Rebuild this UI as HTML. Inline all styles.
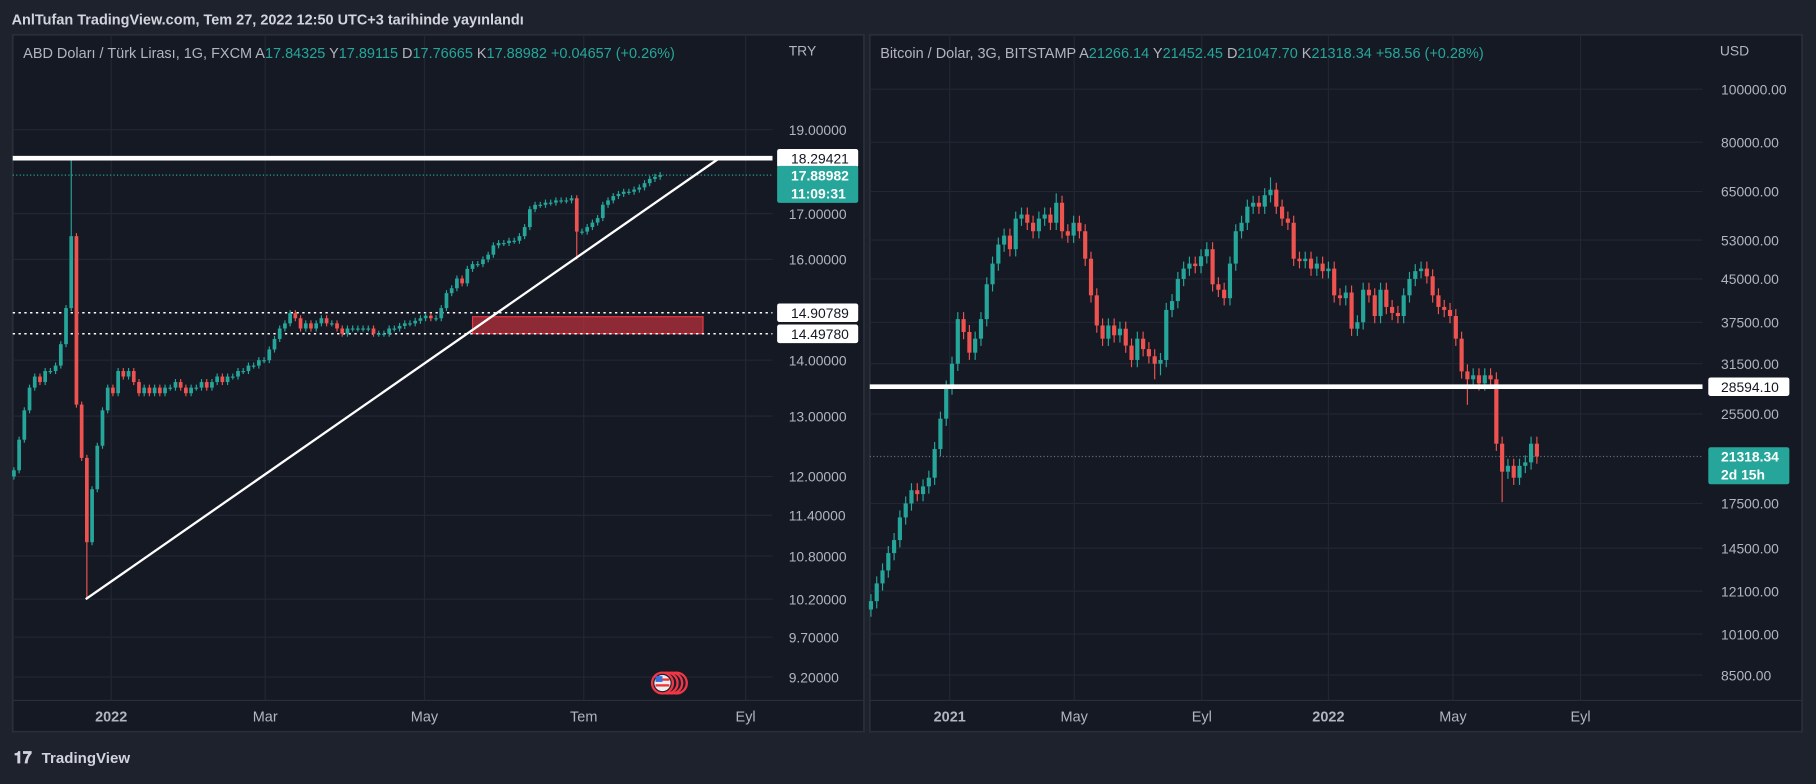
<!DOCTYPE html>
<html><head><meta charset="utf-8">
<style>
html,body{margin:0;padding:0;background:#1e222d;overflow:hidden;width:1816px;height:778px}
#root{position:absolute;left:0;top:0;width:1568px;height:672px;transform:scale(1.158163,1.15774);transform-origin:0 0;background:#1e222d;font-family:"Liberation Sans",sans-serif}
svg text{font-family:"Liberation Sans",sans-serif}
</style></head>
<body>
<div id="root">
<svg width="1568" height="672" viewBox="0 0 1568 672" id="svg">
<text x="10" y="21" fill="#d1d4dc" font-size="12.5" font-weight="bold">AnlTufan TradingView.com, Tem 27, 2022 12:50 UTC+3 tarihinde yayınlandı</text>
<g id="left"></g>
<g id="right"></g>
<g>
<text x="12" y="659" fill="#d1d4dc" font-size="14" font-weight="bold">𝟏𝟕</text>
<text x="36" y="659" fill="#d1d4dc" font-size="13" font-weight="bold">TradingView</text>
</g>
</svg>
</div>
<script>
// ---- USDTRY data (daily, estimated) ----
const tryCloses=[12.1,12.6,13.1,13.5,13.7,13.6,13.8,13.8,13.9,14.3,15.0,16.5,13.2,12.3,11.0,11.8,12.5,13.1,13.5,13.4,13.8,13.7,13.8,13.6,13.4,13.5,13.4,13.5,13.4,13.5,13.5,13.6,13.5,13.4,13.5,13.5,13.6,13.5,13.6,13.7,13.6,13.7,13.7,13.8,13.8,13.9,13.9,14.0,14.0,14.2,14.4,14.6,14.7,14.9,14.8,14.6,14.7,14.6,14.7,14.8,14.7,14.7,14.6,14.5,14.6,14.6,14.6,14.6,14.6,14.5,14.5,14.5,14.6,14.6,14.65,14.7,14.7,14.75,14.8,14.85,14.8,14.8,15.0,15.3,15.4,15.6,15.5,15.8,15.9,15.9,16.0,16.1,16.3,16.35,16.35,16.4,16.4,16.5,16.7,17.1,17.2,17.2,17.25,17.25,17.3,17.3,17.3,17.35,16.6,16.6,16.7,16.8,16.9,17.2,17.3,17.4,17.45,17.5,17.5,17.55,17.6,17.7,17.8,17.85,17.89];
const tryOpen0=12.0;
const tryHighSpikes={11:18.3};
const tryLowSpikes={14:10.2,108:16.0};
const tryTicks=[19.0,17.0,16.0,14.0,13.0,12.0,11.4,10.8,10.2,9.7,9.2];
const tryTickLabels=["19.00000","17.00000","16.00000","14.00000","13.00000","12.00000","11.40000","10.80000","10.20000","9.70000","9.20000"];
const tryMonths=["2022","Mar","May","Tem","Eyl"];
const tryMonthDay=[0,59,120,181,243]; // days from 2022-01-01
const tryLevels=[18.29421,14.90789,14.49780];
const tryLast=17.88982;
const tryTrend=[10.2,18.29421];
const tryBox=[14.83,14.50];

// ---- BTCUSD data (3-day, estimated) ----
const btcCloses=[11600,12500,13200,14200,15000,16500,17500,18500,18200,18800,19500,22000,25000,28500,31500,38000,36000,33000,35000,38000,44000,48000,52000,54000,51000,58000,59000,57000,55000,58000,59000,57000,62000,55000,54000,57000,55000,49000,42000,37000,35000,37000,35500,36500,34000,32000,35000,33500,32500,31500,32000,39500,41000,45000,47000,48000,47500,49500,51000,44000,43000,41500,48000,55000,57000,61000,62000,61000,64000,65500,61000,58000,57000,49000,48500,49000,47000,48000,46500,47000,42000,41500,42500,36500,37500,43000,42000,38500,43000,40000,39000,38500,42000,45000,46500,47000,45500,42000,40000,39500,38500,35000,30500,29500,30000,29000,30000,29500,22500,20000,20500,19500,20500,20800,22500,21318];
const btcOpen0=11200;
const btcLowSpikes={49:29500,50:30000,103:26500,109:17600};
const btcHighSpikes={69:69000,32:64500};
const btcTicks=[100000,80000,65000,53000,45000,37500,31500,25500,17500,14500,12100,10100,8500];
const btcTickLabels=["100000.00","80000.00","65000.00","53000.00","45000.00","37500.00","31500.00","25500.00","17500.00","14500.00","12100.00","10100.00","8500.00"];
const btcMonths=["2021","May","Eyl","2022","May","Eyl"];
const btcMonthDay=[0,120,243,365,485,608]; // days from 2021-01-01
const btcLevel=28594.10;
const btcLast=21318.34;

const NS="http://www.w3.org/2000/svg";
function mk(parent,tag,attrs,text){const e=document.createElementNS(NS,tag);for(const k in attrs)e.setAttribute(k,attrs[k]);if(text!==undefined)e.textContent=text;parent.appendChild(e);return e;}
const UP="#26a69a",DN="#ef5350",GRID="#232733",AX="#b2b5be";

function panel(g,P){
  let r=mk(g,'rect',{x:P.x0,y:30,width:P.x1-P.x0,height:602,fill:'#151924',stroke:'#2a2e39','stroke-width':1.5});
  
  
  let ax=mk(g,'line',{x1:P.x0,x2:P.x1,y1:605,y2:605,stroke:'#2a2e39'});
  
  
}

// ---------- LEFT ----------
(function(){
  const g=document.getElementById('left');
  const P={x0:11,x1:746};
  panel(g,P);
  const yS=v=>112+(Math.log(19)-Math.log(v))*652;
  const xI=i=>12+i*4.5;
  const xD=d=>96+d*(133/59);
  const plotR=667;
  tryTicks.forEach((v,i)=>{
    let l=mk(g,'line',{x1:P.x0,x2:plotR,y1:yS(v),y2:yS(v),stroke:GRID});
    
    
    let t=mk(g,'text',{x:681,y:yS(v)+4.5,fill:AX,'font-size':12},tryTickLabels[i]);
    
    
  });
  tryMonths.forEach((m,i)=>{
    const x=xD(tryMonthDay[i]);
    let l=mk(g,'line',{x1:x,x2:x,y1:30,y2:605,stroke:GRID});
    
    
    let t=mk(g,'text',{x:x,y:623,fill:AX,'font-size':12.5,'text-anchor':'middle','font-weight':i==0?'bold':'normal'},m);
    
    
  });
  let tl=mk(g,'text',{x:681,y:48,fill:AX,'font-size':12},'TRY');
  
  
  // box
  let bx=mk(g,'rect',{x:408,y:yS(tryBox[0]),width:199,height:yS(tryBox[1])-yS(tryBox[0]),fill:'rgba(242,54,69,0.55)',stroke:'#f23645','stroke-width':1});
  
  
  // dotted levels
  [tryLevels[1],tryLevels[2]].forEach(v=>{
    let l=mk(g,'line',{x1:P.x0,x2:plotR,y1:yS(v),y2:yS(v),stroke:'#fff','stroke-width':1.3,'stroke-dasharray':'2,3'});
    
    
  });
  let ll=mk(g,'line',{x1:P.x0,x2:plotR,y1:yS(tryLast),y2:yS(tryLast),stroke:UP,'stroke-width':1,'stroke-dasharray':'1,2'});
  
  
  // candles
  let prev=tryOpen0;
  tryCloses.forEach((c,i)=>{
    const o=prev;prev=c;
    let h=Math.max(o,c)*1.004,l=Math.min(o,c)*0.996;
    if(tryHighSpikes[i])h=tryHighSpikes[i];
    if(tryLowSpikes[i])l=tryLowSpikes[i];
    const col=c>=o?UP:DN,x=xI(i);
    const w=mk(g,'line',{x1:x,x2:x,y1:yS(h),y2:yS(l),stroke:col,'stroke-width':1});
    
    
    const yt=yS(Math.max(o,c)),yb=yS(Math.min(o,c));
    const b=mk(g,'rect',{x:x-1.6,y:yt,width:3.2,height:Math.max(1,yb-yt),fill:col});
    
    
  });
  // trend line
  let tr=mk(g,'line',{x1:74,y1:yS(tryTrend[0]),x2:621,y2:yS(tryTrend[1]),stroke:'#fff','stroke-width':2});
  
  
  // thick resistance
  let rs=mk(g,'line',{x1:P.x0,x2:plotR,y1:yS(tryLevels[0]),y2:yS(tryLevels[0]),stroke:'#fff','stroke-width':4});
  
  
  // labels
  tryLevels.forEach(v=>{
    const y=yS(v);
    let b=mk(g,'rect',{x:671,y:y-8,width:70,height:16,fill:'#fff',rx:2});
    
    
    mk(g,'text',{x:683,y:y+4.5,fill:'#131722','font-size':12},v.toFixed(5));
  });
  let lb=mk(g,'rect',{x:671,y:yS(tryLast)-8,width:70,height:32,fill:UP,rx:2});
  
  
  mk(g,'text',{x:683,y:yS(tryLast)+4.5,fill:'#fff','font-size':12,'font-weight':'bold'},tryLast.toFixed(5));
  mk(g,'text',{x:683,y:yS(tryLast)+20,fill:'#fff','font-size':12,'font-weight':'bold'},'11:09:31');
  // flag icons
  let fg=mk(g,'g',{});
  
  
  [584,580,576,572].forEach(x=>mk(fg,'circle',{cx:x,cy:590,r:9,fill:'#1b1f2b',stroke:'#f23645','stroke-width':2}));
  mk(fg,'circle',{cx:572,cy:590,r:7,fill:'#eee'});
  mk(fg,'rect',{x:566,y:586,width:12,height:2,fill:'#e33'});
  mk(fg,'rect',{x:566,y:591,width:12,height:2,fill:'#e33'});
  mk(fg,'rect',{x:566,y:584,width:6,height:5,fill:'#3a6fd8'});
  // legend
  const tx=mk(g,'text',{x:20,y:50,'font-size':12.5,fill:AX});
  
  
  const parts=[["ABD Doları / Türk Lirası, 1G, FXCM  A",AX],["17.84325",UP],["  Y",AX],["17.89115",UP],["  D",AX],["17.76665",UP],["  K",AX],["17.88982",UP],["  +0.04657 (+0.26%)",UP]];
  parts.forEach(p=>mk(tx,'tspan',{fill:p[1]},p[0]));
  tx.setAttribute('xml:space','preserve');
})();

// ---------- RIGHT ----------
(function(){
  const g=document.getElementById('right');
  const P={x0:751,x1:1556};
  panel(g,P);
  const yS=v=>77+(Math.log(100000)-Math.log(v))*205.3;
  const xI=i=>752+i*5;
  const xD=d=>820+d*(327/365);
  const plotR=1470;
  btcTicks.forEach((v,i)=>{
    let l=mk(g,'line',{x1:P.x0,x2:plotR,y1:yS(v),y2:yS(v),stroke:GRID});
    
    
    let t=mk(g,'text',{x:1486,y:yS(v)+4.5,fill:AX,'font-size':12},btcTickLabels[i]);
    
    
  });
  btcMonths.forEach((m,i)=>{
    const x=xD(btcMonthDay[i]);
    let l=mk(g,'line',{x1:x,x2:x,y1:30,y2:605,stroke:GRID});
    
    
    let t=mk(g,'text',{x:x,y:623,fill:AX,'font-size':12.5,'text-anchor':'middle','font-weight':(m=="2021"||m=="2022")?'bold':'normal'},m);
    
    
  });
  let ul=mk(g,'text',{x:1485,y:48,fill:AX,'font-size':12},'USD');
  
  
  let ll=mk(g,'line',{x1:P.x0,x2:plotR,y1:yS(btcLast),y2:yS(btcLast),stroke:'#6a6d78','stroke-width':1,'stroke-dasharray':'1,2'});
  
  
  let prev=btcOpen0;
  btcCloses.forEach((c,i)=>{
    const o=prev;prev=c;
    let h=Math.max(o,c)*1.03,l=Math.min(o,c)*0.97;
    if(btcHighSpikes[i])h=btcHighSpikes[i];
    if(btcLowSpikes[i])l=btcLowSpikes[i];
    const col=c>=o?UP:DN,x=xI(i);
    const w=mk(g,'line',{x1:x,x2:x,y1:yS(h),y2:yS(l),stroke:col,'stroke-width':1});
    
    
    const yt=yS(Math.max(o,c)),yb=yS(Math.min(o,c));
    const b=mk(g,'rect',{x:x-1.8,y:yt,width:3.6,height:Math.max(1,yb-yt),fill:col});
    
    
  });
  let rs=mk(g,'line',{x1:P.x0,x2:plotR,y1:yS(btcLevel),y2:yS(btcLevel),stroke:'#fff','stroke-width':4});
  
  
  let b=mk(g,'rect',{x:1475,y:yS(btcLevel)-8,width:70,height:16,fill:'#fff',rx:2});
  
  
  mk(g,'text',{x:1486,y:yS(btcLevel)+4.5,fill:'#131722','font-size':12},btcLevel.toFixed(2));
  let lb=mk(g,'rect',{x:1475,y:yS(btcLast)-8,width:70,height:32,fill:UP,rx:2});
  
  
  mk(g,'text',{x:1486,y:yS(btcLast)+4.5,fill:'#fff','font-size':12,'font-weight':'bold'},btcLast.toFixed(2));
  mk(g,'text',{x:1486,y:yS(btcLast)+20,fill:'#fff','font-size':12,'font-weight':'bold'},'2d 15h');
  const tx=mk(g,'text',{x:760,y:50,'font-size':12.5,fill:AX});
  
  
  tx.setAttribute('xml:space','preserve');
  const parts=[["Bitcoin / Dolar, 3G, BITSTAMP  A",AX],["21266.14",UP],["  Y",AX],["21452.45",UP],["  D",AX],["21047.70",UP],["  K",AX],["21318.34",UP],["  +58.56 (+0.28%)",UP]];
  parts.forEach(p=>mk(tx,'tspan',{fill:p[1]},p[0]));
})();
</script>
</body></html>
